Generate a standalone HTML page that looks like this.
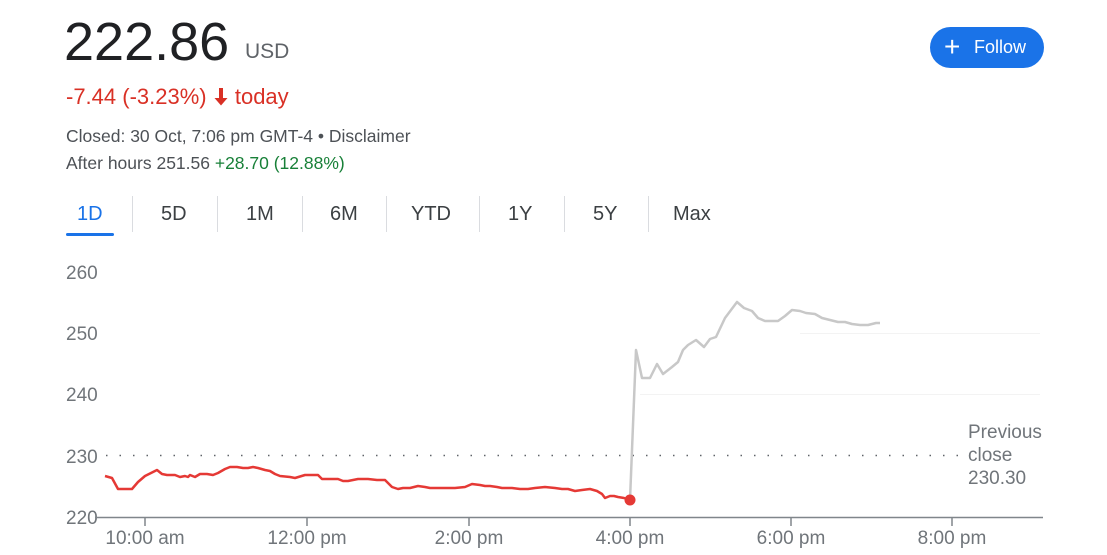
<!DOCTYPE html>
<html><head><meta charset="utf-8"><style>
body{margin:0;width:1107px;height:555px;background:#fff;font-family:"Liberation Sans",Arial,sans-serif;position:relative;overflow:hidden}
.a{position:absolute;white-space:nowrap}
</style></head><body>
<div class="a" style="left:64px;top:11px;font-size:54px;color:#202124">222.86</div>
<div class="a" style="left:245px;top:40px;font-size:21px;color:#5f6368">USD</div>
<div class="a" style="left:930px;top:27px;width:114px;height:41px;border-radius:21px;background:#1a73e8;color:#fff;font-size:18px;line-height:41px"><span style="position:absolute;left:14px;top:-1px;font-size:28px">+</span><span style="position:absolute;left:44px">Follow</span></div>
<div class="a" style="left:66px;top:84px;font-size:22px;color:#d93025">-7.44 (-3.23%) <svg width="16" height="18" viewBox="0 0 16 18" style="vertical-align:-2px"><path d="M6 0h4v10h4.5L8 17.5 1.5 10H6z" fill="#d93025"/></svg> today</div>
<div class="a" style="left:66px;top:126px;font-size:17.5px;color:#4d5156">Closed: 30 Oct, 7:06 pm GMT-4 • Disclaimer</div>
<div class="a" style="left:66px;top:153px;font-size:17.5px;color:#4d5156">After hours 251.56 <span style="color:#188038">+28.70 (12.88%)</span></div>
<div class="a" style="left:77px;top:203px;font-size:20px;color:#1a73e8">1D</div>
<div class="a" style="left:66px;top:233px;width:48px;height:3px;background:#1a73e8;border-radius:2px"></div>
<div class="a" style="left:161px;top:203px;font-size:20px;color:#3c4043">5D</div>
<div class="a" style="left:246px;top:203px;font-size:20px;color:#3c4043">1M</div>
<div class="a" style="left:330px;top:203px;font-size:20px;color:#3c4043">6M</div>
<div class="a" style="left:411px;top:203px;font-size:20px;color:#3c4043">YTD</div>
<div class="a" style="left:508px;top:203px;font-size:20px;color:#3c4043">1Y</div>
<div class="a" style="left:593px;top:203px;font-size:20px;color:#3c4043">5Y</div>
<div class="a" style="left:673px;top:203px;font-size:20px;color:#3c4043">Max</div>
<svg class="a" style="left:0;top:0" width="1107" height="555">
<g stroke="#dadce0" stroke-width="1">
<line x1="132.5" y1="196" x2="132.5" y2="232"/><line x1="217.5" y1="196" x2="217.5" y2="232"/><line x1="302.5" y1="196" x2="302.5" y2="232"/><line x1="386.5" y1="196" x2="386.5" y2="232"/><line x1="479.5" y1="196" x2="479.5" y2="232"/><line x1="564.5" y1="196" x2="564.5" y2="232"/><line x1="648.5" y1="196" x2="648.5" y2="232"/>
</g>
<line x1="800" y1="333.5" x2="1040" y2="333.5" stroke="#f3f3f3"/>
<line x1="640" y1="394.5" x2="1040" y2="394.5" stroke="#f3f3f3"/>
<g font-size="19" fill="#70757a">
<text x="66" y="279">260</text><text x="66" y="340">250</text><text x="66" y="401">240</text><text x="66" y="463">230</text><text x="66" y="524">220</text>
<text x="145" y="544" text-anchor="middle">10:00 am</text><text x="307" y="544" text-anchor="middle">12:00 pm</text><text x="469" y="544" text-anchor="middle">2:00 pm</text><text x="630" y="544" text-anchor="middle">4:00 pm</text><text x="791" y="544" text-anchor="middle">6:00 pm</text><text x="952" y="544" text-anchor="middle">8:00 pm</text>
<text x="968" y="438">Previous</text><text x="968" y="461">close</text><text x="968" y="484">230.30</text>
</g>
<line x1="106" y1="455.5" x2="962" y2="455.5" stroke="#5f6368" stroke-width="1.5" stroke-dasharray="1.5 12"/>
<line x1="95" y1="517.5" x2="1043" y2="517.5" stroke="#80868b" stroke-width="1.5"/>
<g stroke="#80868b" stroke-width="1.5"><line x1="145" y1="517" x2="145" y2="526"/><line x1="307" y1="517" x2="307" y2="526"/><line x1="469" y1="517" x2="469" y2="526"/><line x1="630" y1="517" x2="630" y2="526"/><line x1="791" y1="517" x2="791" y2="526"/><line x1="952" y1="517" x2="952" y2="526"/></g>
<polyline fill="none" stroke="#c8c8c8" stroke-width="2.5" stroke-linejoin="round" points="630,500 636,350 642,378 650,378 657,364 663,374 672,367 678,362 683,350 688,345 696,340 704,347 710,339 716,337 725,318 737,302 744,308 752,311 758,318 765,321 778,321 785,316 792,310 800,311 806,313 815,314 822,318 838,322 845,322 852,324 860,325 868,325 876,323 880,323"/>
<polyline fill="none" stroke="#e53935" stroke-width="2.5" stroke-linejoin="round" points="105,476 112,478 118,489 122,489 132,489 138,482 145,476 157,470 162,474 167,475 175,475 180,477 185,476 188,477 190,475 195,477 200,474 207,474 213,475 218,473 225,469 230,467 237,467 243,468 248,468 253,467 258,468 265,470 270,471 275,474 280,476 290,477 295,478 305,475 312,475 318,475 322,479 330,479 338,479 343,481 348,481 353,480 358,479 368,479 377,480 385,480 392,487 398,489 403,488 410,488 418,486 425,487 430,488 448,488 455,488 465,487 472,484 480,485 485,486 490,486 497,487 502,488 512,488 520,489 528,489 535,488 545,487 555,488 562,489 568,489 575,491 582,490 590,489 597,491 602,494 605,498 610,496 614,496 618,497 624,498 630,500"/>
<circle cx="630" cy="500" r="5.5" fill="#e53935"/>
</svg>
</body></html>
